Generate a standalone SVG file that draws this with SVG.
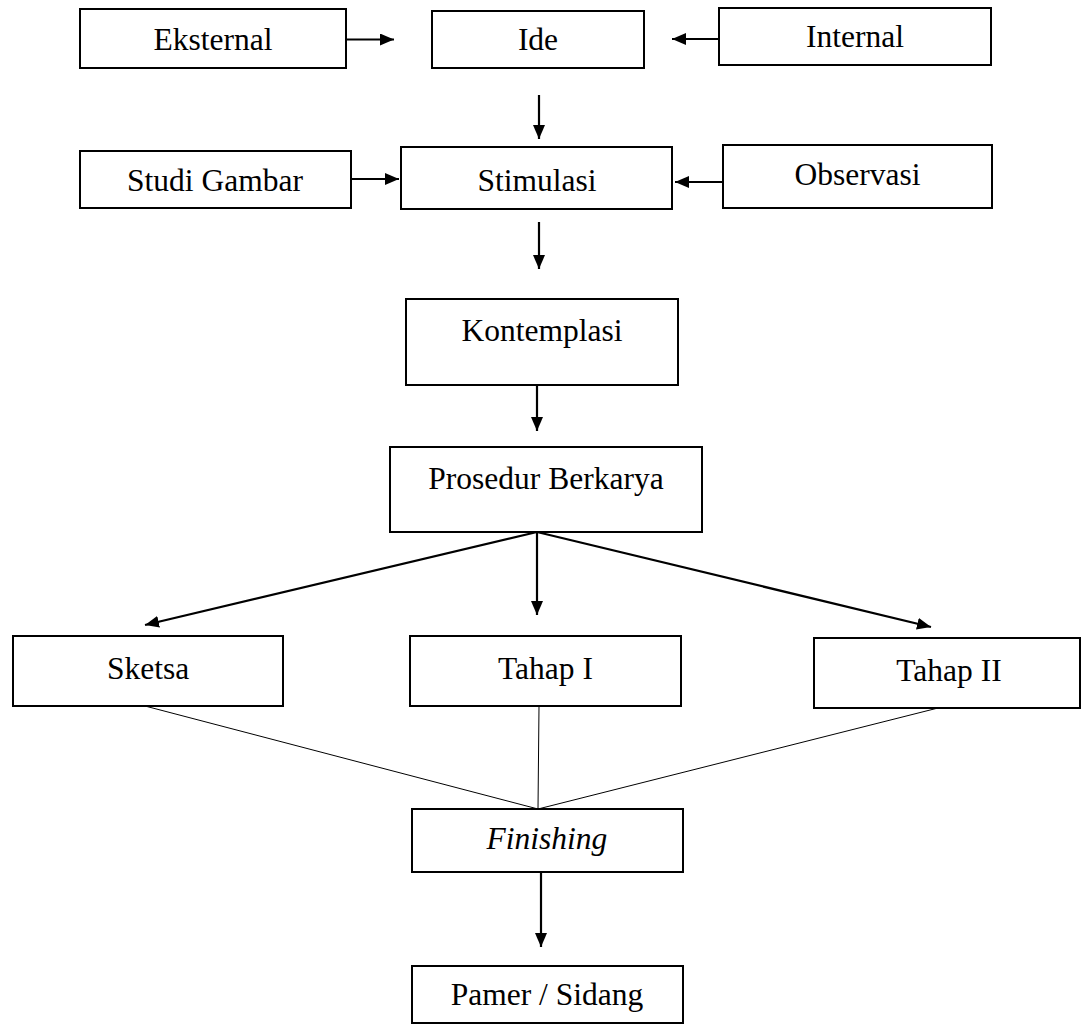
<svg xmlns="http://www.w3.org/2000/svg" width="1083" height="1026" viewBox="0 0 1083 1026">
<style>
.box{fill:#fff;stroke:#000;stroke-width:2}
.lbl{font-family:"Liberation Serif","Times New Roman",serif;font-size:31.5px;fill:#000;text-anchor:middle}
.arr{stroke:#000;stroke-width:2.2;fill:none;marker-end:url(#ah)}
.thin{stroke:#000;stroke-width:1;fill:none}
</style>
<defs>
<marker id="ah" markerUnits="userSpaceOnUse" markerWidth="14" markerHeight="12" refX="14" refY="6" orient="auto">
<path d="M0,0 L14,6 L0,12 z" fill="#000"/>
</marker>
</defs>
<rect width="1083" height="1026" fill="#fff"/>
<g id="connectors">
<line class="arr" x1="346" y1="39.5" x2="394" y2="39.5"/>
<line class="arr" x1="719" y1="39" x2="672" y2="39"/>
<line class="arr" x1="539" y1="95" x2="539" y2="139"/>
<line class="arr" x1="351" y1="179" x2="399" y2="179"/>
<line class="arr" x1="723" y1="182" x2="675" y2="182"/>
<line class="arr" x1="539" y1="222" x2="539" y2="269"/>
<line class="arr" x1="537" y1="385" x2="537" y2="431"/>
<line class="arr" x1="537" y1="532" x2="145" y2="625"/>
<line class="arr" x1="537" y1="532" x2="537" y2="615"/>
<line class="arr" x1="537" y1="532" x2="931" y2="627"/>
<line class="thin" x1="145" y1="706" x2="538" y2="809"/>
<line class="thin" x1="539" y1="706" x2="538" y2="809"/>
<line class="thin" x1="938" y1="708" x2="538" y2="809"/>
<line class="arr" x1="541" y1="872" x2="541" y2="947"/>
</g>
<g id="eksternal"><rect class="box" x="80" y="9" width="266" height="59"/><text class="lbl" x="213" y="50">Eksternal</text></g>
<g id="ide"><rect class="box" x="432" y="11" width="212" height="57"/><text class="lbl" x="538" y="50">Ide</text></g>
<g id="internal"><rect class="box" x="719" y="8" width="272" height="57"/><text class="lbl" x="855" y="47">Internal</text></g>
<g id="studi-gambar"><rect class="box" x="80" y="151" width="271" height="57"/><text class="lbl" x="215" y="191">Studi Gambar</text></g>
<g id="stimulasi"><rect class="box" x="401" y="147" width="271" height="62"/><text class="lbl" x="537" y="191">Stimulasi</text></g>
<g id="observasi"><rect class="box" x="723" y="145" width="269" height="63"/><text class="lbl" x="857.5" y="185">Observasi</text></g>
<g id="kontemplasi"><rect class="box" x="406" y="299" width="272" height="86"/><text class="lbl" x="542" y="341">Kontemplasi</text></g>
<g id="prosedur"><rect class="box" x="390" y="447" width="312" height="85"/><text class="lbl" x="546" y="489">Prosedur Berkarya</text></g>
<g id="sketsa"><rect class="box" x="13" y="636" width="270" height="70"/><text class="lbl" x="148" y="679">Sketsa</text></g>
<g id="tahap1"><rect class="box" x="410" y="636" width="271" height="70"/><text class="lbl" x="545.5" y="679">Tahap I</text></g>
<g id="tahap2"><rect class="box" x="814" y="638" width="266" height="70"/><text class="lbl" x="949" y="681">Tahap II</text></g>
<g id="finishing"><rect class="box" x="412" y="809" width="271" height="63"/><text class="lbl" x="547" y="849" font-style="italic">Finishing</text></g>
<g id="pamer"><rect class="box" x="412" y="966" width="271" height="57"/><text class="lbl" x="547" y="1005">Pamer / Sidang</text></g>
</svg>
